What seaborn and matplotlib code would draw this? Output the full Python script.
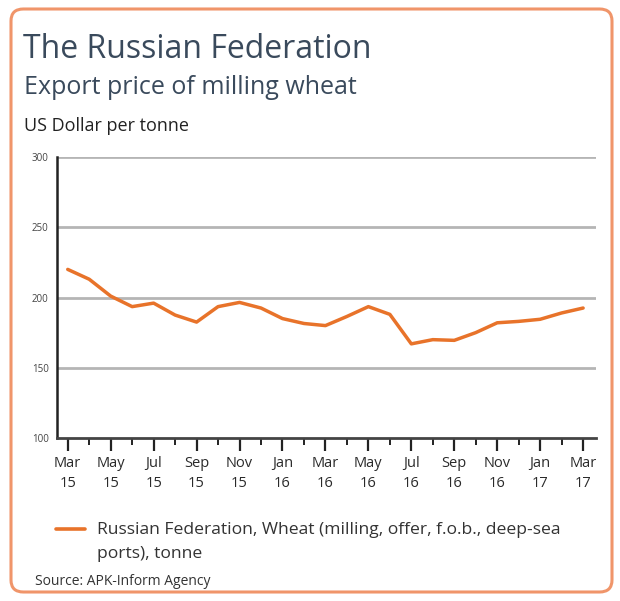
import matplotlib
matplotlib.use("Agg")
import matplotlib.pyplot as plt
import seaborn as sns
import pandas as pd
import numpy as np
from matplotlib.patches import FancyBboxPatch
from matplotlib.lines import Line2D

# ---- data ----
months = ["Mar 15", "Apr 15", "May 15", "Jun 15", "Jul 15", "Aug 15", "Sep 15",
          "Oct 15", "Nov 15", "Dec 15", "Jan 16", "Feb 16", "Mar 16", "Apr 16",
          "May 16", "Jun 16", "Jul 16", "Aug 16", "Sep 16", "Oct 16", "Nov 16",
          "Dec 16", "Jan 17", "Feb 17", "Mar 17"]
price = [220, 213, 201, 193.5, 196, 187.5, 182.5, 193.5, 196.5, 192.5, 185, 181.5,
         180, 186.5, 193.5, 188, 167, 170, 169.5, 175, 182, 183, 184.5, 189, 192.5]
tick_labels = ["Mar\n15", "May\n15", "Jul\n15", "Sep\n15", "Nov\n15", "Jan\n16",
               "Mar\n16", "May\n16", "Jul\n16", "Sep\n16", "Nov\n16", "Jan\n17", "Mar\n17"]
y_ticks = [100, 150, 200, 250, 300]
series_name = "Russian Federation, Wheat (milling, offer, f.o.b., deep-sea\nports), tonne"

df = pd.DataFrame({"idx": np.arange(len(months)), "month": months, "price": price})

sns.set_theme(style="white")
plt.rcParams["font.family"] = ["Open Sans", "DejaVu Sans"]

W, H = 620, 601
fig = plt.figure(figsize=(W / 100, H / 100), dpi=100)

line_color = "#e8732a"
text_dark = "#3a4a5c"

# border
border = FancyBboxPatch((11 / W, 9 / H), (612 - 11) / W, (592 - 9) / H,
                        boxstyle="round,pad=0,rounding_size=0.02",
                        transform=fig.transFigure, facecolor="none",
                        edgecolor="#f0956a", linewidth=2.2, zorder=5)
fig.add_artist(border)

ax = fig.add_axes([57 / W, 1 - 438 / H, (596 - 57) / W, (438 - 157) / H])
ax.set_facecolor("none")

sns.lineplot(data=df, x="idx", y="price", ax=ax, color=line_color, linewidth=2.5,
             legend=False, zorder=3)

ax.set_xlim(-0.5, 24.6)
ax.set_ylim(100, 300)
ax.set_yticks(y_ticks)
ax.set_yticklabels([str(v) for v in y_ticks], fontsize=7, color="#444444")
ax.set_xticks(np.arange(0, 25, 2))
ax.set_xticklabels(tick_labels, fontsize=10.5, color="#2a2a2a", linespacing=1.45)
ax.set_xticks(np.arange(0, 25, 1), minor=True)
ax.tick_params(axis="x", which="major", length=9, width=1.6, color="#222222",
               direction="out", pad=4, bottom=True)
ax.tick_params(axis="x", which="minor", length=5, width=1.4, color="#222222",
               direction="out", bottom=True)
ax.tick_params(axis="y", length=0, pad=6)
ax.set_xlabel("")
ax.set_ylabel("")

for v in y_ticks[1:]:
    ax.axhline(v, color="#b5b5b5", linewidth=2.0, zorder=1)

for s in ["top", "right"]:
    ax.spines[s].set_visible(False)
ax.spines["left"].set_color("#222222")
ax.spines["left"].set_linewidth(1.8)
ax.spines["bottom"].set_color("#444444")
ax.spines["bottom"].set_linewidth(2.0)

# titles
fig.text(23 / W, 1 - 58 / H, "The Russian Federation", fontsize=23, color=text_dark,
         ha="left", va="baseline")
fig.text(24 / W, 1 - 94 / H, "Export price of milling wheat", fontsize=18,
         color=text_dark, ha="left", va="baseline")
fig.text(24 / W, 1 - 131 / H, "US Dollar per tonne", fontsize=13, color="#222222",
         ha="left", va="baseline")

# legend
fig.add_artist(Line2D([56 / W, 85 / W], [1 - 529 / H, 1 - 529 / H], color=line_color,
                      linewidth=2.6, transform=fig.transFigure))
fig.text(97 / W, 1 - 534 / H, series_name.split("\n")[0], fontsize=12.6,
         color="#333333", ha="left", va="baseline")
fig.text(97 / W, 1 - 558 / H, series_name.split("\n")[1], fontsize=12.6,
         color="#333333", ha="left", va="baseline")

fig.text(35 / W, 1 - 585 / H, "Source: APK-Inform Agency", fontsize=10,
         color="#333333", ha="left", va="baseline")

fig.savefig("out.png", dpi=100)
